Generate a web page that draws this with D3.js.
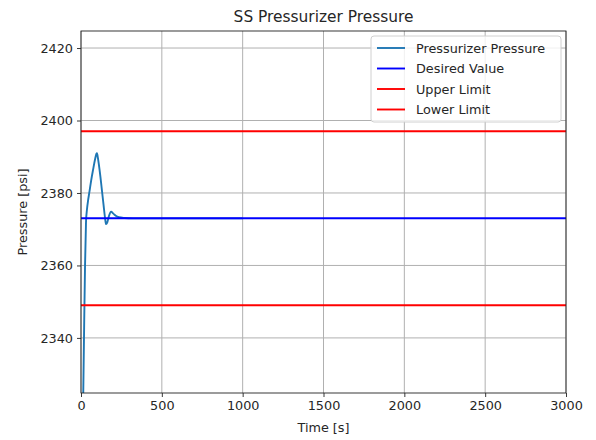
<!DOCTYPE html>
<html><head><meta charset="utf-8">
<script src="https://cdn.jsdelivr.net/npm/d3@7"></script>
<style>body{margin:0;background:#fff}svg{display:block}text{font-family:"DejaVu Sans",sans-serif;fill:#262626}</style>
</head><body><svg id="c" width="596" height="440"></svg>
<script>
const timeS = [0,7,14,20,25,31,37,44,51,63,75,87,95,99,104,110,120,130,140,149,155,162,172,186,200,215,235,270,320,500,700,850,1000];
const pressurePsi = [2270,2300,2325,2345,2360,2372,2375.5,2378,2380,2383.5,2386.5,2389.3,2390.8,2391,2389.8,2388,2384.5,2380.5,2376.5,2373,2371.4,2371.8,2373.5,2374.8,2374.3,2373.7,2373.3,2373.1,2373.0,2373.0,2373.0,2373.0,2373.0];
const desiredValue = 2373;
const upperLimit = 2397;
const lowerLimit = 2349;
const xTicks = [0,500,1000,1500,2000,2500,3000];
const yTicks = [2340,2360,2380,2400,2420];
const legendLabels = ["Pressurizer Pressure","Desired Value","Upper Limit","Lower Limit"];
const legendColors = ["#1f77b4","#0000ff","#ff0000","#ff0000"];

const svg = d3.select("#c");
const L=81,R=566,T=31,B=393;
const x = d3.scaleLinear().domain([0,3000]).range([L,R]);
const y = d3.scaleLinear().domain([2324.8,2424.7]).range([B,T]);

// grid
const g = svg.append("g");
g.selectAll(".gx").data(xTicks).join("line").attr("x1",d=>x(d)).attr("x2",d=>x(d)).attr("y1",T).attr("y2",B).attr("stroke","#b0b0b0").attr("stroke-width",1);
g.selectAll(".gy").data(yTicks).join("line").attr("y1",d=>y(d)).attr("y2",d=>y(d)).attr("x1",L).attr("x2",R).attr("stroke","#b0b0b0").attr("stroke-width",1);

svg.append("clipPath").attr("id","clip").append("rect").attr("x",L).attr("y",T).attr("width",R-L).attr("height",B-T);
const plot = svg.append("g").attr("clip-path","url(#clip)");
const line = d3.line().x(d=>x(d[0])).y(d=>y(d[1])).curve(d3.curveMonotoneX);
plot.append("path").datum(timeS.map((t,i)=>[t,pressurePsi[i]])).attr("d",line).attr("fill","none").attr("stroke",legendColors[0]).attr("stroke-width",1.9);
[[desiredValue,legendColors[1]],[upperLimit,legendColors[2]],[lowerLimit,legendColors[3]]].forEach(([v,c])=>{
  plot.append("line").attr("x1",x(0)).attr("x2",x(3000)).attr("y1",y(v)).attr("y2",y(v)).attr("stroke",c).attr("stroke-width",2);
});

// axes
const ax = svg.append("g").attr("transform",`translate(0,${B})`).call(d3.axisBottom(x).tickValues(xTicks).tickSize(4).tickPadding(4).tickFormat(d3.format("d")));
const ay = svg.append("g").attr("transform",`translate(${L},0)`).call(d3.axisLeft(y).tickValues(yTicks).tickSize(4).tickPadding(4).tickFormat(d3.format("d")));
[ax,ay].forEach(a=>{a.select(".domain").remove();a.selectAll("text").style("font-size","12.8px").attr("fill","#262626");a.selectAll("line").attr("stroke","#222").attr("stroke-width",0.9);});
svg.append("rect").attr("x",L).attr("y",T).attr("width",R-L).attr("height",B-T).attr("fill","none").attr("stroke","#222").attr("stroke-width",0.9);

svg.append("text").attr("x",(L+R)/2).attr("y",22).attr("text-anchor","middle").style("font-size","15.4px").text("SS Pressurizer Pressure");
svg.append("text").attr("x",(L+R)/2).attr("y",432).attr("text-anchor","middle").style("font-size","12.8px").text("Time [s]");
svg.append("text").attr("transform",`translate(27,${(T+B)/2}) rotate(-90)`).attr("text-anchor","middle").style("font-size","12.8px").text("Pressure [psi]");

// legend
const lg = svg.append("g");
lg.append("rect").attr("x",371).attr("y",36).attr("width",190).attr("height",86).attr("rx",3).attr("fill","#fff").attr("fill-opacity",0.8).attr("stroke","#d0d0d0");
legendLabels.forEach((t,i)=>{
  const yy = 48 + i*20.5;
  lg.append("line").attr("x1",377).attr("x2",405).attr("y1",yy).attr("y2",yy).attr("stroke",legendColors[i]).attr("stroke-width",1.9);
  lg.append("text").attr("x",416).attr("y",yy+4.5).style("font-size","12.8px").text(t);
});
</script></body></html>
